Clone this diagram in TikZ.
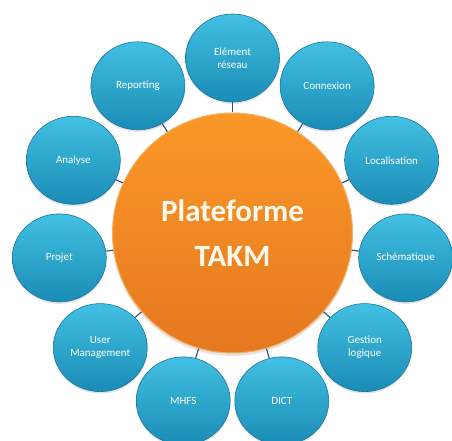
\documentclass[tikz,border=0pt]{standalone}
\usepackage{fontspec}
\setmainfont{Carlito}
\usetikzlibrary{shapes.geometric,shadows}

\definecolor{satTop}{RGB}{66,192,226}
\definecolor{satBot}{RGB}{26,140,182}
\definecolor{satEdge}{RGB}{28,116,156}
\definecolor{orgTop}{RGB}{250,152,40}
\definecolor{orgBot}{RGB}{230,120,32}
\definecolor{orgEdge}{RGB}{246,176,96}
\definecolor{linkBlue}{RGB}{40,78,124}
\definecolor{hubText}{RGB}{255,248,236}

\begin{document}
\begin{tikzpicture}[x=1pt,y=1pt,
    sat/.style={ellipse, minimum width=94pt, minimum height=88pt, inner sep=0pt,
        top color=satTop, bottom color=satBot, draw=satEdge, line width=0.6pt,
        drop shadow={opacity=0.22, shadow xshift=0pt, shadow yshift=-2pt},
        text=white, align=center, font=\fontsize{11}{13}\selectfont},
    hub/.style={circle, minimum size=240pt, inner sep=0pt,
        top color=orgTop, bottom color=orgBot, draw=orgEdge, line width=1pt,
        drop shadow={opacity=0.22, shadow xshift=0pt, shadow yshift=-3pt},
        text=hubText, align=center, font=\fontsize{31}{45}\selectfont\bfseries},
    link/.style={linkBlue, line width=1.1pt}]
        \useasboundingbox (-232.5,-208) rectangle (219.5,233);

        % 外围的节点
        \node[sat] (element) at (90:175) {Elément\\réseau};
        \node[sat] (connexion) at (57.27:175) {Connexion};
        \node[sat] (localisation) at (24.55:175) {Localisation};
        \node[sat] (schematique) at (-8.18:175) {Schématique};
        \node[sat] (gestion) at (-40.91:175) {Gestion\\logique};
        \node[sat] (dict) at (-73.64:175) {DICT};
        \node[sat] (mhfs) at (-106.36:175) {MHFS};
        \node[sat] (usermgmt) at (-139.09:175) {User\\Management};
        \node[sat] (projet) at (-171.82:175) {Projet};
        \node[sat] (analyse) at (155.45:175) {Analyse};
        \node[sat] (reporting) at (122.73:175) {Reporting};

        % 中心的平台
        \node[hub] (takm) at (0,0) {Plateforme\\TAKM};

        % 连接线
        \draw[link] (takm) -- (element);
        \draw[link] (takm) -- (connexion);
        \draw[link] (takm) -- (localisation);
        \draw[link] (takm) -- (schematique);
        \draw[link] (takm) -- (gestion);
        \draw[link] (takm) -- (dict);
        \draw[link] (takm) -- (mhfs);
        \draw[link] (takm) -- (usermgmt);
        \draw[link] (takm) -- (projet);
        \draw[link] (takm) -- (analyse);
        \draw[link] (takm) -- (reporting);
    \end{tikzpicture}
\end{document}
